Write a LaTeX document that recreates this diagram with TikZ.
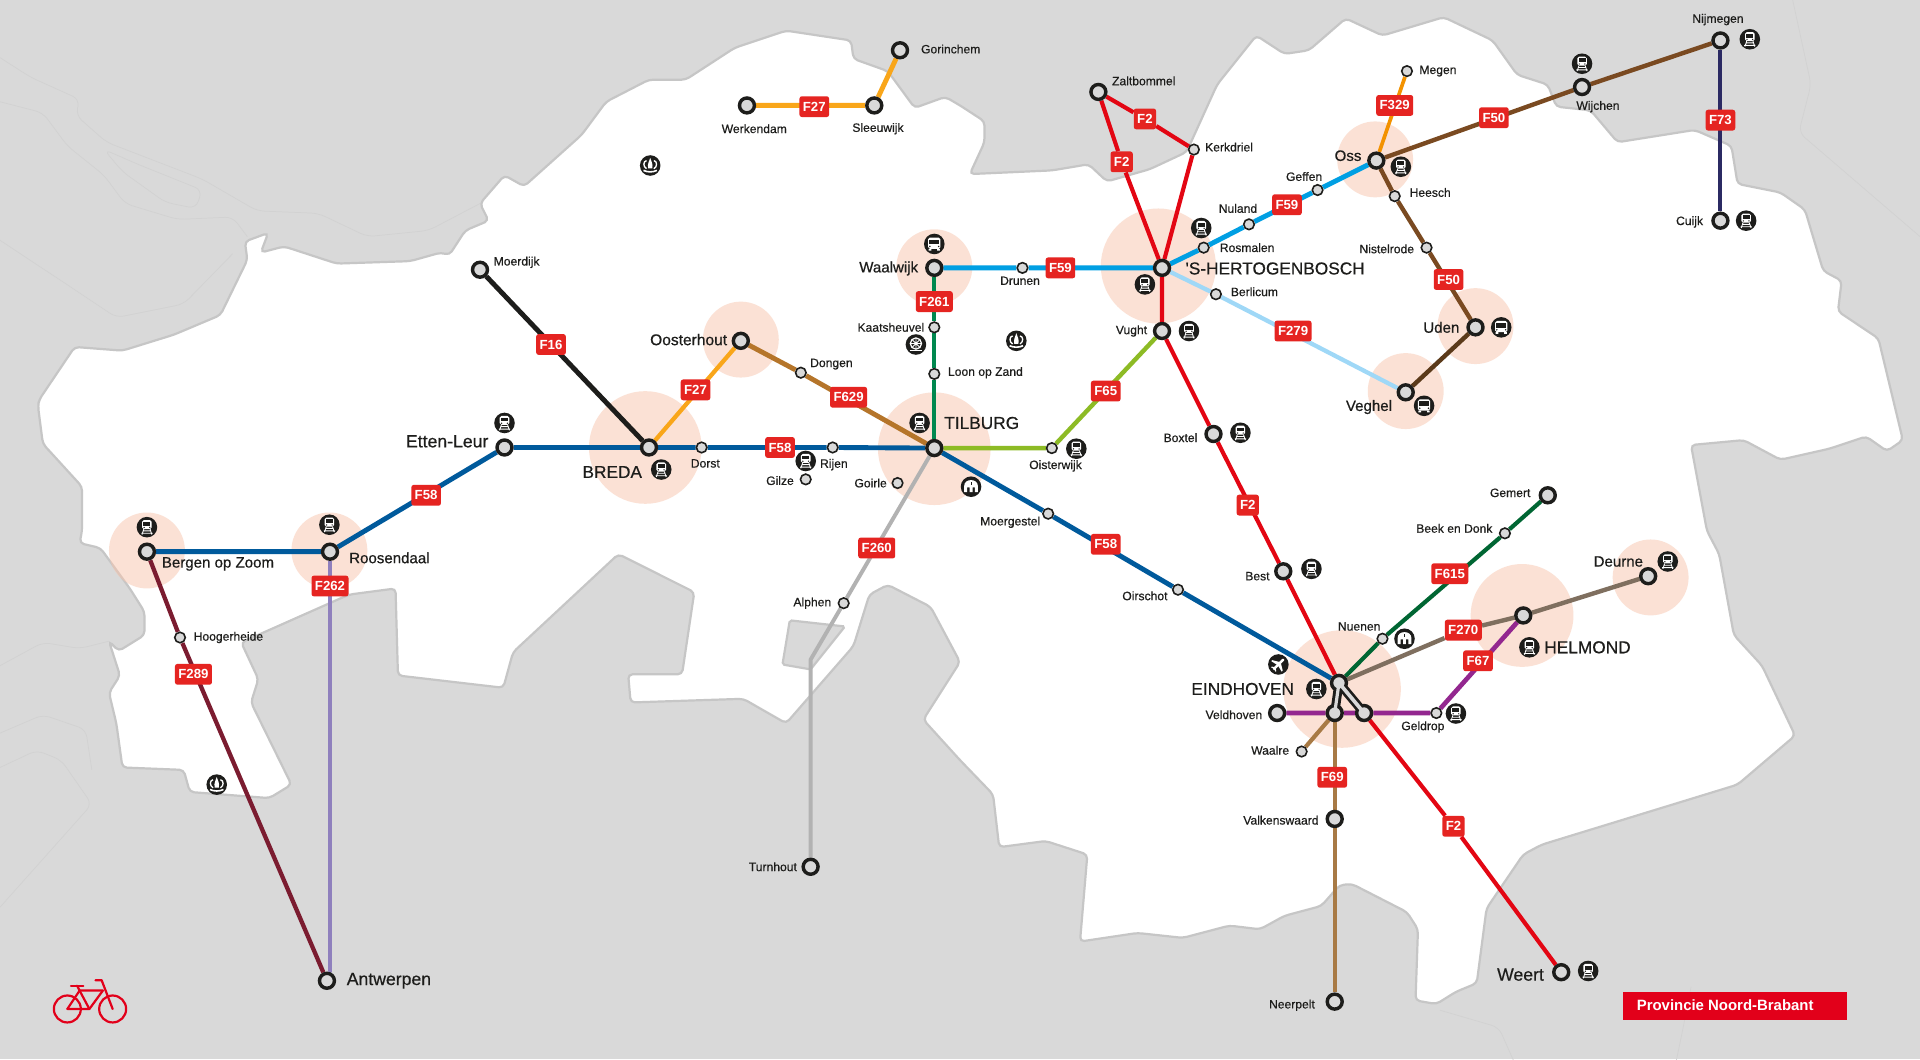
\documentclass[tikz,border=0pt]{standalone}
\usepackage{fontspec}
\setmainfont{Liberation Sans}
\newfontfamily\medf[FakeBold=0.5]{Liberation Sans}
\newfontfamily\boldf{Liberation Sans Bold}
\definecolor{bggray}{HTML}{D9D9D9}
\definecolor{coast}{HTML}{C6C6C6}
\definecolor{faint}{HTML}{D2D2D2}
\definecolor{pinkc}{HTML}{F8C5AD}
\definecolor{ink}{HTML}{1D1D1B}
\definecolor{badge}{HTML}{E52421}
\definecolor{cOrange}{HTML}{F9A61A}
\definecolor{cOrangeB}{HTML}{F39200}
\definecolor{cBlack}{HTML}{1D1D1B}
\definecolor{cBlue}{HTML}{005A9C}
\definecolor{cOchre}{HTML}{B5752A}
\definecolor{cCyan}{HTML}{009FE3}
\definecolor{cGreen}{HTML}{00884F}
\definecolor{cLime}{HTML}{8DBB25}
\definecolor{cRed}{HTML}{E30613}
\definecolor{cSky}{HTML}{9FD8F7}
\definecolor{cBrown}{HTML}{7A4A21}
\definecolor{cDkBrown}{HTML}{5B3A1A}
\definecolor{cNavy}{HTML}{2B2A63}
\definecolor{cDkGreen}{HTML}{006633}
\definecolor{cTaupe}{HTML}{7F6F5F}
\definecolor{cPurple}{HTML}{93278F}
\definecolor{cTan}{HTML}{A87A45}
\definecolor{cGrey}{HTML}{B2B2B2}
\definecolor{cLav}{HTML}{8F80BD}
\definecolor{cWine}{HTML}{7B1C30}
\definecolor{provred}{HTML}{E2001A}
\pgfdeclarelayer{land}\pgfdeclarelayer{lines}\pgfdeclarelayer{hub}\pgfdeclarelayer{top}
\pgfsetlayers{land,lines,hub,main,top}
\tikzset{
  bigst/.style={circle,draw=ink,fill=bggray,line width=2.8pt,minimum size=12.2pt,inner sep=0pt},
  smst/.style={circle,draw=ink,fill=bggray,line width=1.3pt,minimum size=8.6pt,inner sep=0pt},
  badgebox/.style={rectangle,rounded corners=2pt,fill=badge,text=white,font=\boldf\fontsize{10.8}{11}\selectfont,minimum height=17pt,inner xsep=2.8pt,inner ysep=0pt},
  stxt/.style={font=\medf\fontsize{9.9}{10}\selectfont,text=ink,inner sep=0pt},
  mtxt/.style={font=\medf\fontsize{12.3}{13}\selectfont,text=ink,inner sep=0pt},
  ltxt/.style={font=\medf\fontsize{14.4}{15}\selectfont,text=ink,inner sep=0pt},
  ctxt/.style={font=\medf\fontsize{14.1}{15}\selectfont,text=ink,inner sep=0pt},
  route/.style={line width=#1,line join=round},
  route/.default=3.5pt,
  halo/.style={fill=pinkc,opacity=.5},
  trainicon/.pic={
    \fill[ink] (0,0) circle (8.4pt);
    \fill[white,rounded corners=1.4pt] (-3.9,-5.8) rectangle (3.9,1.6);
    \fill[ink] (-2.9,-4.3) rectangle (2.9,-1.2);
    \fill[ink] (-2.3,0.2) circle (.6pt) (2.3,0.2) circle (.6pt);
    \draw[white,line width=.7pt] (-3.2,3) -- (3.2,3) (-4.6,5) -- (4.6,5) (-2.6,1.6) -- (-4,6) (2.6,1.6) -- (4,6);
  },
  busicon/.pic={
    \fill[ink] (0,0) circle (8.4pt);
    \fill[white,rounded corners=1.4pt] (-5,-5.2) rectangle (5,4);
    \fill[ink] (-4,-3.6) rectangle (4,.4);
    \fill[ink] (-3.6,2) circle (.7pt) (3.6,2) circle (.7pt);
    \fill[white] (-4.6,4) rectangle (-2.4,5.4) (4.6,4) rectangle (2.4,5.4);
  },
  palaceicon/.pic={
    \fill[ink] (0,0) circle (8.4pt);
    \fill[white] (-1.7,2.4) .. controls (-2.4,-1.5) and (-1,-3) .. (0,-6.2) .. controls (1,-3) and (2.4,-1.5) .. (1.7,2.4) -- cycle;
    \draw[white,line width=1.1pt] (-3,2.6) .. controls (-6,1) and (-5.8,-3.6) .. (-3,-4);
    \draw[white,line width=1.1pt] (3,2.6) .. controls (6,1) and (5.8,-3.6) .. (3,-4);
    \draw[white,line width=1.3pt] (-5.5,4) .. controls (-2,5.6) and (2,5.6) .. (5.5,4);
  },
  homeicon/.pic={
    \fill[ink] (0,0) circle (8.4pt);
    \fill[white] (-5.6,4.4) -- (-5.6,-.6) .. controls (-5.6,-7) and (5.6,-7) .. (5.6,-.6) -- (5.6,4.4) -- (3.2,4.4) -- (3.2,.6) -- (1.2,.6) -- (1.2,4.4) -- (-1.2,4.4) -- (-1.2,.6) -- (-3.2,.6) -- (-3.2,4.4) -- cycle;
    \fill[ink] (-.4,-4.2) rectangle (.4,-1.6);
  },
  wheelicon/.pic={
    \fill[ink] (0,0) circle (8.4pt);
    \draw[white,line width=1pt] (0,-.8) circle (4.6pt);
    \draw[white,line width=.7pt] (-4.6,-.8) -- (4.6,-.8) (0,-5.4) -- (0,3.8) (-3.3,-4.1) -- (3.3,2.5) (-3.3,2.5) -- (3.3,-4.1);
    \fill[white] (0,-.8) circle (1.4pt);
    \draw[white,line width=1pt] (-5,5.2) -- (5,5.2);
  },
  planeicon/.pic={
    \fill[ink] (0,0) circle (8.4pt);
    \begin{scope}[rotate=-45]
      \draw[white,line width=2pt,line cap=round] (0,-5.6) -- (0,5);
      \fill[white] (-6,1) -- (0,-2.6) -- (6,1) -- (6,2.2) -- (0,.8) -- (-6,2.2) -- cycle;
      \fill[white] (-2.6,5) -- (0,3.4) -- (2.6,5) -- (2.6,5.8) -- (0,5.2) -- (-2.6,5.8) -- cycle;
    \end{scope}
  },
}
\begin{document}
\begin{tikzpicture}[x=1pt,y=-1.0012pt]
\useasboundingbox (0pt,0pt) rectangle (1568pt,-864.85pt);

% ---------- stations ----------
\node[bigst] (gorinchem) at (735,41) {};
\node[bigst] (werkendam) at (610,86) {};
\node[bigst] (sleeuwijk) at (714,86) {};
\node[bigst] (moerdijk) at (392,220) {};
\node[bigst] (breda) at (530,365) {};
\node[bigst] (oosterhout) at (605,278) {};
\node[smst] (dongen) at (654,304) {};
\node[bigst] (tilburg) at (763,365.5) {};
\node[smst] (dorst) at (573,365) {};
\node[smst] (rijen) at (680,365) {};
\node[smst] (gilze) at (658,391) {};
\node[smst] (goirle) at (733,394) {};
\node[bigst] (ettenleur) at (412,365) {};
\node[bigst] (roosendaal) at (269.5,450) {};
\node[bigst] (bergen) at (120,450) {};
\node[smst] (hoogerheide) at (147,520) {};
\node[bigst] (antwerpen) at (267,800) {};
\node[bigst] (waalwijk) at (763,218.5) {};
\node[smst] (drunen) at (835,218.5) {};
\node[smst] (kaatsheuvel) at (763,267) {};
\node[smst] (loon) at (763,305) {};
\node[smst] (oisterwijk) at (859,365.5) {};
\node[bigst] (bosch) at (949,218.5) {};
\node[smst] (rosmalen) at (983,202) {};
\node[smst] (nuland) at (1020,183) {};
\node[smst] (geffen) at (1076,155) {};
\node[bigst] (oss) at (1124,131) {};
\node[smst] (megen) at (1149,58) {};
\node[smst] (heesch) at (1139,160) {};
\node[smst] (nistelrode) at (1165,202) {};
\node[bigst] (uden) at (1205,267) {};
\node[bigst] (veghel) at (1148,320) {};
\node[smst] (berlicum) at (993,240) {};
\node[bigst] (vught) at (949,270) {};
\node[bigst] (boxtel) at (991,354) {};
\node[bigst] (best) at (1048,466) {};
\node[bigst] (zaltbommel) at (897,75) {};
\node[smst] (kerkdriel) at (975,122) {};
\node[bigst] (wijchen) at (1292,71) {};
\node[bigst] (nijmegen) at (1405,33) {};
\node[bigst] (cuijk) at (1405,180) {};
\node[smst] (moergestel) at (856,419) {};
\node[smst] (oirschot) at (962,481) {};
\node[smst] (alphen) at (689,492) {};
\node[bigst] (turnhout) at (662,707) {};
\node[bigst] (eindhoven) at (1093.5,557) {};
\node[bigst] (veldhoven) at (1043,581.6) {};
\node[bigst] (hubL) at (1090,581.6) {};
\node[bigst] (hubR) at (1114,581.6) {};
\node[smst] (geldrop) at (1173,581.6) {};
\node[smst] (waalre) at (1063,613) {};
\node[smst] (nuenen) at (1129,521) {};
\node[bigst] (helmond) at (1244,502) {};
\node[bigst] (deurne) at (1346,470) {};
\node[bigst] (gemert) at (1264,404) {};
\node[smst] (beek) at (1229,435) {};
\node[bigst] (valkenswaard) at (1090,668) {};
\node[bigst] (neerpelt) at (1090,817) {};
\node[bigst] (weert) at (1275,793) {};
\coordinate (bendT) at (662,538);
\coordinate (lavEnd) at (269.5,792);

% ---------- route badges ----------
\node[badgebox] (b27a) at (665,87) {F27};
\node[badgebox] (b27b) at (568,318) {F27};
\node[badgebox] (b16) at (450,281) {F16};
\node[badgebox] (b58a) at (637,365) {F58};
\node[badgebox] (b58b) at (348,404) {F58};
\node[badgebox] (b58c) at (903,444) {F58};
\node[badgebox] (b629) at (693,324) {F629};
\node[badgebox] (b261) at (763,246) {F261};
\node[badgebox] (b59a) at (866,218.5) {F59};
\node[badgebox] (b59b) at (1051,167) {F59};
\node[badgebox] (b65) at (903,319) {F65};
\node[badgebox] (b2a) at (916,132) {F2};
\node[badgebox] (b2b) at (935,97) {F2};
\node[badgebox] (b2c) at (1019,412) {F2};
\node[badgebox] (b2d) at (1187,674) {F2};
\node[badgebox] (b329) at (1139,86) {F329};
\node[badgebox] (b50a) at (1220,96) {F50};
\node[badgebox] (b50b) at (1183,228) {F50};
\node[badgebox] (b73) at (1405,98) {F73};
\node[badgebox] (b279) at (1056,270) {F279};
\node[badgebox] (b615) at (1184,468) {F615};
\node[badgebox] (b270) at (1195,514) {F270};
\node[badgebox] (b67) at (1207,539) {F67};
\node[badgebox] (b69) at (1088,634) {F69};
\node[badgebox] (b260) at (716,447) {F260};
\node[badgebox] (b262) at (269.5,478) {F262};
\node[badgebox] (b289) at (158,550) {F289};

% ---------- station names ----------
\node[stxt,anchor=west] (tGorinchem) at (752,40) {Gorinchem};
\node[stxt] (tWerkendam) at (616,105) {Werkendam};
\node[stxt] (tSleeuwijk) at (717,105) {Sleeuwijk};
\node[stxt,anchor=west] (tMoerdijk) at (403,214) {Moerdijk};
\node[stxt] (tDorst) at (576,378) {Dorst};
\node[stxt] (tRijen) at (681,379) {Rijen};
\node[stxt] (tGilze) at (637,392) {Gilze};
\node[stxt] (tGoirle) at (711,394) {Goirle};
\node[stxt] (tDongen) at (679,297) {Dongen};
\node[mtxt,anchor=east,font=\medf\fontsize{12.7}{13}\selectfont] (tOosterhout) at (594,277) {Oosterhout};
\node[mtxt,anchor=east] (tWaalwijk) at (750,219) {Waalwijk};
\node[stxt,anchor=east] (tKaatsheuvel) at (755,267) {Kaatsheuvel};
\node[stxt,anchor=west] (tLoon) at (774,304) {Loon op Zand};
\node[stxt] (tDrunen) at (833,229) {Drunen};
\node[ctxt,anchor=west] (tTilburg) at (771,345) {TILBURG};
\node[stxt] (tOisterwijk) at (862,380) {Oisterwijk};
\node[ltxt,anchor=east] (tEtten) at (399,360) {Etten-Leur};
\node[ctxt] (tBreda) at (500,385) {BREDA};
\node[mtxt,anchor=west] (tRoosendaal) at (285,455) {Roosendaal};
\node[mtxt,anchor=west] (tBergen) at (132,460) {Bergen op Zoom};
\node[stxt,anchor=west] (tHoogerheide) at (158,520) {Hoogerheide};
\node[ltxt,anchor=west] (tAntwerpen) at (283,800) {Antwerpen};
\node[stxt,anchor=east] (tTurnhout) at (651,707) {Turnhout};
\node[stxt,anchor=east] (tAlphen) at (679,492) {Alphen};
\node[stxt,anchor=west] (tZaltbommel) at (908,66) {Zaltbommel};
\node[stxt,anchor=west] (tKerkdriel) at (984,120) {Kerkdriel};
\node[mtxt,anchor=east] (tOss) at (1112,127) {Oss};
\node[stxt,anchor=west] (tMegen) at (1159,58) {Megen};
\node[stxt] (tGeffen) at (1065,144) {Geffen};
\node[stxt] (tNuland) at (1011,170) {Nuland};
\node[stxt,anchor=west] (tRosmalen) at (996,202) {Rosmalen};
\node[ctxt,anchor=west] (tBosch) at (968,219) {'S-HERTOGENBOSCH};
\node[stxt,anchor=west] (tBerlicum) at (1005,238) {Berlicum};
\node[stxt,anchor=east] (tVught) at (937,270) {Vught};
\node[stxt,anchor=east] (tBoxtel) at (978,357) {Boxtel};
\node[stxt,anchor=east] (tBest) at (1037,470) {Best};
\node[stxt,anchor=west] (tHeesch) at (1151,157) {Heesch};
\node[stxt,anchor=east] (tNistelrode) at (1155,203) {Nistelrode};
\node[mtxt,anchor=east] (tUden) at (1192,267) {Uden};
\node[mtxt,anchor=east] (tVeghel) at (1137,332) {Veghel};
\node[stxt] (tWijchen) at (1305,87) {Wijchen};
\node[stxt] (tNijmegen) at (1403,16) {Nijmegen};
\node[stxt,anchor=east] (tCuijk) at (1391,181) {Cuijk};
\node[stxt] (tMoergestel) at (825,426) {Moergestel};
\node[stxt] (tOirschot) at (935,486) {Oirschot};
\node[stxt,anchor=east] (tGemert) at (1250,402) {Gemert};
\node[stxt,anchor=east] (tBeek) at (1219,431) {Beek en Donk};
\node[mtxt,anchor=east] (tDeurne) at (1342,458) {Deurne};
\node[ctxt,anchor=west] (tHelmond) at (1261,528) {HELMOND};
\node[stxt] (tNuenen) at (1110,511) {Nuenen};
\node[ctxt,anchor=east] (tEindhoven) at (1057,562) {EINDHOVEN};
\node[stxt,anchor=east] (tVeldhoven) at (1031,583) {Veldhoven};
\node[stxt] (tGeldrop) at (1162,593) {Geldrop};
\node[stxt,anchor=east] (tWaalre) at (1053,612) {Waalre};
\node[stxt,anchor=east] (tValkenswaard) at (1077,669) {Valkenswaard};
\node[stxt,anchor=east] (tNeerpelt) at (1074,820) {Neerpelt};
\node[ltxt,anchor=east] (tWeert) at (1261,795) {Weert};

% ---------- icons ----------
\foreach \p in {(412,345),(540,383),(658,376),(751,345),(879,366),(971,270),(981,186),(935,232),(1013,353),(1071,464),(1144,136),(1426,180),(1429,32),(1292,52),(1075,562),(1189,582),(1249,528),(1362,458),(1297,792),(120,430),(269,428)}
  \pic at \p {trainicon};
\foreach \p in {(763,199),(1226,267),(1163,331)} \pic at \p {busicon};
\foreach \p in {(531,135),(830,278),(177,640)} \pic at \p {palaceicon};
\foreach \p in {(793,397),(1147,521)} \pic at \p {homeicon};
\pic at (748,281) {wheelicon};
\pic at (1044,542) {planeicon};

% ---------- province plate ----------
\node[rectangle,fill=provred,minimum width=182.5pt,minimum height=23pt,inner sep=0pt,anchor=north west] (plate) at (1325.5,809) {};
\node[font=\boldf\fontsize{12.2}{13}\selectfont,text=white,inner sep=0pt,anchor=west] (plateText) at (1336.5,820) {Provincie Noord-Brabant};

% ---------- land and haloes ----------
\begin{pgfonlayer}{land}
\fill[bggray] (0pt,0pt) rectangle (1568pt,-864.85pt);
\begin{scope}[faint,line width=.6pt,rounded corners=6pt]
\draw (0,47) -- (25,63) -- (65,81) -- (62,94) -- (87,116) -- (165,146) -- (210,172) -- (260,174) -- (300,193) -- (350,188) -- (392,166);
\draw (0,83) -- (35,92) -- (55,119) -- (85,143) -- (102,166) -- (145,179) -- (190,177) -- (202,193);
\draw (0,196) -- (50,229) -- (95,259) -- (150,248) -- (190,207);
\draw (85,122) -- (115,135) -- (165,155) -- (160,170) -- (135,165) -- (100,140) -- cycle;
\draw (1464,0) -- (1479,69) -- (1469,108) -- (1568,193);
\draw (0,740) -- (75,656) -- (50,620) -- (30,612) -- (0,626);
\draw (0,543) -- (35,524) -- (65,529) -- (89,523);
\draw (0,598) -- (35,583) -- (70,595) -- (75,628);
\draw (1381,805) -- (1374,841) -- (1369,865);
\draw (1176,824) -- (1224,838) -- (1236,865);
\end{scope}
\filldraw[fill=white,draw=coast,line width=1.8pt,rounded corners=3.5pt]
 (31,331) -- (32,326) -- (61,283) -- (100,286) -- (142,273) -- (180,257) -- (202,212) -- (200,197) -- (219,190) -- (213,206) -- (232,201) -- (275,215) -- (335,213) -- (360,206) -- (367,208) -- (380,188) -- (399,180) -- (392,166) -- (412,143) -- (428,152) -- (475,110) -- (495,83) -- (530,65) -- (560,65) -- (600,39) -- (642,25) -- (695,33) -- (697,48) -- (725,58) -- (747,88) -- (772,79) -- (784,86) -- (804,99) -- (804,116) -- (792,142) -- (859,139) -- (889,134) -- (904,148) -- (939,138) -- (969,124) -- (994,69) -- (1026,29) -- (1049,44) -- (1069,41) -- (1099,15) -- (1129,29) -- (1179,14) -- (1219,33) -- (1239,61) -- (1264,69) -- (1271,87) -- (1299,90) -- (1321,116) -- (1384,106) -- (1414,119) -- (1419,150) -- (1454,157) -- (1474,171) -- (1489,221) -- (1504,229) -- (1501,254) -- (1534,276) -- (1554,359) -- (1541,368) -- (1524,356) -- (1494,366) -- (1454,375) -- (1424,359) -- (1381,363) -- (1394,433) -- (1404,452) -- (1416,518) -- (1439,543) -- (1466,600) -- (1419,640) -- (1259,689) -- (1244,697) -- (1214,741) -- (1206,802) -- (1189,809) -- (1173,819) -- (1156,816) -- (1158,758) -- (1149,744) -- (1104,721) -- (1094,722) -- (1079,739) -- (1049,747) -- (1029,758) -- (1004,755) -- (966,765) -- (929,761) -- (882,768) -- (888,697) -- (854,686) -- (816,691) -- (811,648) -- (784,620) -- (754,587) -- (784,540) -- (760,495) -- (725,477) -- (710,485) -- (697,527) -- (642,590) -- (607,570) -- (515,573) -- (513,550) -- (557,550) -- (567,483) -- (505,452) -- (419,532) -- (411,561) -- (325,551) -- (323,480) -- (285,485) -- (197,524) -- (211,554) -- (205,573) -- (238,640) -- (220,651) -- (155,646) -- (150,628) -- (100,626) -- (95,590) -- (89,565) -- (98,551) -- (89,523) -- (97,531) -- (118,518) -- (118,499) -- (106,480) -- (82,447) -- (65,443) -- (67,433) -- (67,397) -- (35,362) -- cycle;
\filldraw[fill=bggray,draw=coast,line width=1.8pt,rounded corners=1.5pt] (645,506) -- (690,511) -- (662,546) -- (639,542) -- cycle;
\fill[halo] (527,365) circle (46pt);
\fill[halo] (605,277) circle (31pt);
\fill[halo] (763,218) circle (31pt);
\fill[halo] (763,366) circle (46pt);
\fill[halo] (946,217) circle (47pt);
\fill[halo] (1123,130) circle (31pt);
\fill[halo] (1205,266) circle (31pt);
\fill[halo] (1148,319) circle (31pt);
\fill[halo] (120,449) circle (31pt);
\fill[halo] (269,449) circle (31pt);
\fill[halo] (1096,562) circle (48pt);
\fill[halo] (1243,502) circle (42pt);
\fill[halo] (1348,471) circle (31pt);
% bicycle
\begin{scope}[provred,line width=1.8pt,line cap=round,line join=round]
\draw (55,823) circle (11pt);
\draw (92,823) circle (11pt);
\draw (55,823) -- (65,808) -- (84,808);
\draw (55,823) -- (73,823) -- (84,808);
\draw (65,808) -- (73,823);
\draw (92,823) -- (83,799.5) -- (78,799.5);
\draw (65,808) -- (63,804);
\draw (58,804) -- (68,804);
\end{scope}
\end{pgfonlayer}

% ---------- connectors ----------
\begin{pgfonlayer}{lines}
\draw[route=3.2pt,cGrey] (tilburg) -- (alphen) -- (bendT) -- (turnhout);
\draw[route=3.2pt,cLav] (roosendaal) -- (lavEnd) -- (antwerpen);
\draw[route=3.5pt,cWine] (bergen) -- (hoogerheide) -- (antwerpen);
\draw[route=4pt,cOrange] (werkendam) -- (sleeuwijk) -- (gorinchem);
\draw[route=3.5pt,cOrange] (breda) -- (oosterhout);
\draw[route=4pt,cBlack] (moerdijk) -- (breda);
\draw[route=4pt,cOchre] (oosterhout) -- (dongen) -- (tilburg);
\draw[route=3.4pt,cGreen] (waalwijk) -- (kaatsheuvel) -- (loon) -- (tilburg);
\draw[route=3.6pt,cLime] (tilburg) -- (oisterwijk) -- (vught);
\draw[route=4pt,cBlue] (bergen) -- (roosendaal) -- (ettenleur) -- (breda) -- (dorst) -- (rijen) -- (tilburg) -- (moergestel) -- (oirschot) -- (eindhoven);
\draw[route=4pt,cCyan] (waalwijk) -- (drunen) -- (bosch) -- (rosmalen) -- (nuland) -- (geffen) -- (oss);
\draw[route=3.5pt,cSky] (bosch) -- (berlicum) -- (veghel);
\draw[route=3.4pt,cRed] (zaltbommel) -- (b2a) -- (bosch);
\draw[route=3.4pt,cRed] (zaltbommel) -- (b2b) -- (kerkdriel) -- (bosch);
\draw[route=3.4pt,cRed] (bosch) -- (vught) -- (boxtel) -- (best) -- (eindhoven);
\draw[route=3.4pt,cRed] (hubR) -- (b2d) -- (weert);
\draw[route=3pt,cOrangeB] (oss) -- (megen);
\draw[route=3.6pt,cBrown] (nijmegen) -- (wijchen) -- (oss) -- (heesch) -- (nistelrode) -- (uden);
\draw[route=3.6pt,cDkBrown] (uden) -- (veghel);
\draw[route=3.2pt,cNavy] (nijmegen) -- (cuijk);
\draw[route=3.4pt,cDkGreen] (eindhoven) -- (nuenen) -- (beek) -- (gemert);
\draw[route=3.6pt,cTaupe] (eindhoven) -- (b270) -- (helmond) -- (deurne);
\draw[route=3.4pt,cTan] (hubL) -- (valkenswaard) -- (neerpelt);
\draw[route=3.4pt,cTan] (hubL) -- (waalre);
\draw[route=3.8pt,cPurple] (veldhoven) -- (hubL) -- (hubR) -- (geldrop) -- (helmond);
\end{pgfonlayer}
\begin{pgfonlayer}{hub}
\draw[ink,line width=7.4pt] (eindhoven.center) -- (hubL.center);
\draw[ink,line width=7.4pt] (eindhoven.center) -- (hubR.center);
\end{pgfonlayer}
\begin{pgfonlayer}{top}
\draw[bggray,line width=2.6pt] (eindhoven.center) -- (hubL.center);
\draw[bggray,line width=3pt] (eindhoven.center) -- (hubR.center);
\end{pgfonlayer}
\end{tikzpicture}
\end{document}
